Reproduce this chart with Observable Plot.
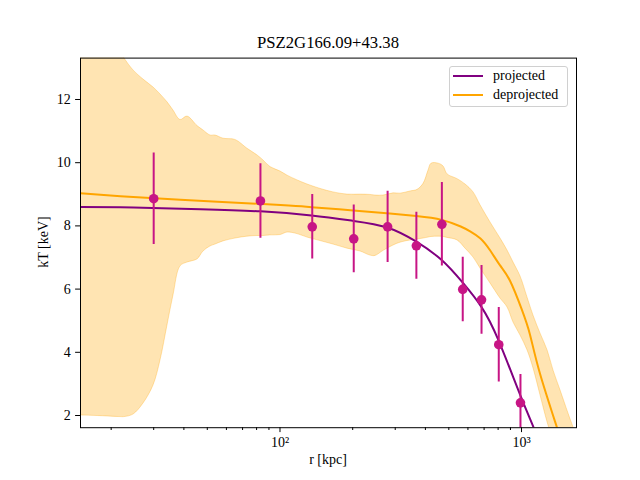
<!DOCTYPE html>
<html>
<head>
<meta charset="utf-8">
<script src="https://cdn.jsdelivr.net/npm/d3@7"></script>
<script src="https://cdn.jsdelivr.net/npm/@observablehq/plot@0.6"></script>
<style>
  body { margin: 0; background: #fff; }
  #wrap { position: relative; width: 640px; height: 480px; font-family: "Liberation Serif", "DejaVu Serif", serif; color: #000; }
  #wrap svg { position: absolute; left: 0; top: 0; }
  .title { position: absolute; left: 0; width: 656px; top: 34px; text-align: center; font-size: 16.7px; line-height: 18px; }
  .xlabel { position: absolute; left: 0; width: 656px; top: 452px; text-align: center; font-size: 14px; line-height: 16px; }
  .ylabel { position: absolute; left: 44px; top: 242px; font-size: 14px; line-height: 16px; white-space: nowrap; transform: translate(-50%, -50%) rotate(-90deg); }
  .legend { position: absolute; left: 449px; top: 66px; width: 119px; height: 41px; border: 1px solid #d0d0d0; border-radius: 3px; background: rgba(255,255,255,0.8); box-sizing: border-box; }
  .legend .row { position: absolute; left: 0; height: 18px; font-size: 14px; line-height: 18px; }
  .legend .sw { position: absolute; left: 3px; top: 8px; width: 30px; height: 2px; }
  .legend .tx { position: absolute; left: 43px; top: 0; white-space: nowrap; }
</style>
</head>
<body>
<div id="wrap">
  <div class="title">PSZ2G166.09+43.38</div>
  <div class="xlabel">r [kpc]</div>
  <div class="ylabel">kT [keV]</div>
  <div class="legend">
    <div class="row" style="top:0px"><div class="sw" style="background:purple"></div><div class="tx">projected</div></div>
    <div class="row" style="top:19px"><div class="sw" style="background:orange"></div><div class="tx">deprojected</div></div>
  </div>
</div>
<script>
// Projected temperature measurements (kpc, keV, 1-sigma error)
const radii = [30, 83, 136, 202, 279, 367, 468, 571, 683, 805, 990];
const temps = [8.86, 8.79, 7.97, 7.59, 7.97, 7.37, 8.05, 5.99, 5.66, 4.24, 2.40];
const errs  = [1.45, 1.18, 1.02, 1.07, 1.13, 1.06, 1.32, 1.02, 1.09, 1.18, 0.90];

// Best-fit projected model profile
const projR = [14.93, 21.85, 29.6, 46.9, 83.0, 135, 201, 278, 367, 467, 570, 683, 804, 990, 1122, 1199];
const projT = [8.60, 8.59, 8.57, 8.53, 8.46, 8.33, 8.16, 7.95, 7.50, 6.92, 6.21, 5.43, 4.37, 2.63, 1.62, 1.02];

// Best-fit deprojected (3D) model profile
const deprojR = [14.93, 21.85, 38.7, 100.5, 135, 201, 278, 367, 467, 560, 615, 676, 742, 815, 895, 1003, 1085, 1193, 1402, 1493];
const deprojT = [9.03, 8.94, 8.83, 8.66, 8.59, 8.49, 8.40, 8.31, 8.19, 7.98, 7.82, 7.60, 7.22, 6.75, 6.27, 5.35, 4.55, 3.32, 1.62, 0.95];

// Deprojected confidence envelope
const bandR = [14.93, 18.06, 21.85, 22.70, 24.74, 27.22, 29.94, 32.00, 34.21, 36.22, 38.73, 41.40, 45.53, 48.22, 51.54, 54.07, 58.34, 65.42, 73.36, 80.70, 85.45, 91.34, 100.5, 107.4, 118.2, 130.0, 147.2, 166.5, 190.3, 215.4, 237.0, 248.6, 268.3, 295.1, 315.5, 347.1, 371.0, 392.9, 412.0, 424.0, 453.3, 475.4, 493.9, 543.3, 586.3, 632.7, 676.5, 743.8, 818.5, 875.0, 926.6, 990.6, 1059, 1121, 1199, 1282, 1357, 1451, 1565, 1642, 1755];
const bandHi = [13.9, 13.8, 13.5, 13.3, 12.92, 12.63, 12.38, 12.16, 11.91, 11.65, 11.35, 11.46, 11.16, 11.02, 10.86, 10.86, 10.76, 10.72, 10.44, 10.23, 10.07, 9.86, 9.72, 9.59, 9.44, 9.31, 9.17, 9.06, 8.99, 8.99, 8.98, 8.96, 8.96, 9.03, 9.02, 9.09, 9.14, 9.33, 9.75, 9.97, 9.97, 9.88, 9.63, 9.48, 9.31, 9.06, 8.65, 8.11, 7.60, 7.22, 6.84, 6.40, 5.73, 5.16, 4.59, 4.06, 3.42, 2.79, 2.06, 1.62, 1.05];
const bandLo = [2.00, 1.98, 1.95, 1.95, 2.03, 2.38, 2.95, 3.74, 4.85, 5.80, 6.72, 6.84, 6.94, 7.19, 7.35, 7.41, 7.51, 7.60, 7.66, 7.68, 7.68, 7.70, 7.71, 7.79, 7.74, 7.63, 7.52, 7.41, 7.28, 7.19, 7.06, 7.05, 7.21, 7.38, 7.47, 7.54, 7.57, 7.60, 7.63, 7.65, 7.66, 7.65, 7.62, 7.54, 7.28, 7.00, 6.65, 6.18, 5.70, 5.42, 4.94, 4.53, 4.06, 3.49, 2.63, 1.78, 1.2, 0.7, 0.4, 0.3, 0.2];

// Axis ticks
const yTicks = [2, 4, 6, 8, 10, 12];
const xMajor = [100, 1000];
const xMajorLabels = ["10²", "10³"];
const xMinor = [20, 30, 40, 50, 60, 70, 80, 90, 200, 300, 400, 500, 600, 700, 800, 900];

const points = radii.map((r, i) => ({r, T: temps[i], e: errs[i]}));
const proj = projR.map((r, i) => ({r, T: projT[i]}));
const deproj = deprojR.map((r, i) => ({r, T: deprojT[i]}));
const band = bandR.map((r, i) => ({r, lo: bandLo[i], hi: bandHi[i]}));

const chart = Plot.plot({
  width: 640,
  height: 480,
  marginTop: 57.6,
  marginBottom: 52.8,
  marginLeft: 80,
  marginRight: 64,
  style: {fontFamily: "'Liberation Serif', 'DejaVu Serif', serif", fontSize: "14px", color: "black", background: "transparent"},
  x: {type: "log", domain: [14.93, 1689]},
  y: {domain: [1.614, 13.31]},
  marks: [
    Plot.areaY(band, {x: "r", y1: "lo", y2: "hi", fill: "orange", fillOpacity: 0.3, stroke: "orange", strokeOpacity: 0.3, strokeWidth: 1, curve: "catmull-rom", clip: true}),
    Plot.line(proj, {x: "r", y: "T", stroke: "purple", strokeWidth: 2, curve: "natural", clip: true}),
    Plot.line(deproj, {x: "r", y: "T", stroke: "orange", strokeWidth: 2, curve: "natural", clip: true}),
    Plot.ruleX(points, {x: "r", y1: d => d.T - d.e, y2: d => d.T + d.e, stroke: "mediumvioletred", strokeWidth: 2, clip: true}),
    Plot.dot(points, {x: "r", y: "T", r: 4.8, fill: "mediumvioletred", stroke: null}),
    Plot.axisY(yTicks, {tickSize: 4.9, tickPadding: 4.9, fontSize: 14, label: null}),
    Plot.axisX(xMajor, {tickSize: 4.9, tickPadding: 4.9, fontSize: 14, label: null, tickFormat: d => xMajorLabels[xMajor.indexOf(d)]}),
    Plot.axisX(xMinor, {tickSize: 2.8, label: null, tickFormat: () => ""}),
    Plot.frame({stroke: "black", strokeWidth: 1})
  ]
});

document.getElementById("wrap").prepend(chart);
</script>
</body>
</html>
